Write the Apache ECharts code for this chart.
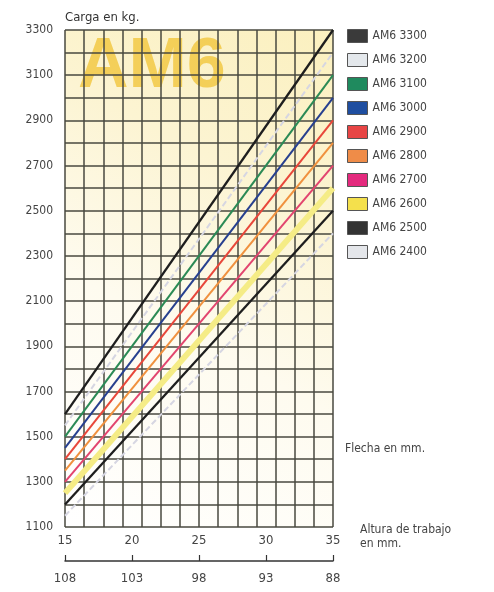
<!DOCTYPE html>
<html>
<head>
<meta charset="utf-8">
<script src="https://cdn.jsdelivr.net/npm/echarts@6/dist/echarts.min.js"></script>
<style>html,body{margin:0;padding:0;background:#fff}#c{width:494px;height:592px}</style>
</head>
<body>
<div id="c"></div>
<script>
// ---- data ----
const models = ['AM6 3300','AM6 3200','AM6 3100','AM6 3000','AM6 2900','AM6 2800','AM6 2700','AM6 2600','AM6 2500','AM6 2400'];
const flechaStart = 15;
const flechaEnd = 35;
const loadAtStart = [1600,1550,1500,1450,1400,1350,1300,1250,1200,1150];
const loadAtEnd   = [3300,3200,3100,3000,2900,2800,2700,2600,2500,2400];
const flechaTicks = [15,20,25,30,35];
const alturaLabels = ['108','103','98','93','88'];

// ---- styles ----
const lineColors = ['#1e1e1e','#d6d6e2','#2b8a55','#27408f','#e8473a','#f0913e','#e2456f','#f5ec86','#1e1e1e','#d6d6e2'];
const legendColors = ['#3a3a3a','#e4e8ec','#1f8a5e','#1f4ea0','#e84545','#ef8c48','#e42a7e','#f4e04c','#333333','#e4e6ea'];
const lineWidths = [2.3,2,2,2,2,2,2,6,2.3,2];
const lineTypes = ['solid',[6,3],'solid','solid','solid','solid','solid','solid','solid',[6,3]];

const series = models.map((m, i) => ({
  name: m,
  type: 'line',
  xAxisIndex: 0,
  yAxisIndex: 0,
  symbol: 'none',
  silent: true,
  z: i === 7 ? 2 : (lineColors[i] === '#1e1e1e' ? 4 : 3),
  lineStyle: { color: lineColors[i], width: lineWidths[i], type: lineTypes[i] },
  itemStyle: { color: legendColors[i], borderColor: '#666', borderWidth: 1 },
  data: [[flechaStart, loadAtStart[i]], [flechaEnd, loadAtEnd[i]]]
}));

const font = '"DejaVu Sans Condensed","DejaVu Sans",sans-serif';
const chart = echarts.init(document.getElementById('c'), null, { renderer: 'canvas' });
chart.setOption({
  animation: false,
  backgroundColor: '#ffffff',
  grid: { left: 65, right: 161, top: 30, bottom: 65, show: false },
  legend: {
    orient: 'vertical',
    left: 342, top: 24,
    itemWidth: 20, itemHeight: 13, itemGap: 10,
    icon: 'rect',
    selectedMode: false,
    textStyle: { fontFamily: font, fontSize: 12, color: '#444' },
    data: models.map((m, i) => ({ name: m, itemStyle: { color: legendColors[i], borderColor: '#555', borderWidth: 1 } }))
  },
  xAxis: [
    {
      type: 'value', min: flechaStart, max: flechaEnd, interval: 5,
      position: 'bottom',
      axisLine: { show: false }, axisTick: { show: false },
      splitLine: { show: false },
      axisLabel: { margin: 7, fontFamily: font, fontSize: 13, color: '#444',
        formatter: v => flechaTicks.indexOf(v) >= 0 ? String(v) : '' }
    },
    {
      type: 'value', min: 0, max: 14, interval: 1,
      position: 'top', show: true,
      axisLine: { show: false }, axisTick: { show: false }, axisLabel: { show: false },
      splitLine: { show: true, lineStyle: { color: '#48483f', width: 1.5 } }
    },
    {
      type: 'value', min: flechaStart, max: flechaEnd, interval: 5,
      position: 'bottom', offset: 34,
      axisLine: { show: true, lineStyle: { color: '#333', width: 1.5 } },
      axisTick: { show: true, inside: true, length: 6, lineStyle: { color: '#333', width: 1.2 } },
      splitLine: { show: false },
      axisLabel: { margin: 11, fontFamily: font, fontSize: 13, color: '#444',
        formatter: v => alturaLabels[flechaTicks.indexOf(v)] || '' }
    }
  ],
  yAxis: [{
    type: 'value', min: 1100, max: 3300, interval: 100,
    name: 'Carga en kg.',
    nameLocation: 'end', nameGap: 6,
    nameTextStyle: { fontFamily: font, fontSize: 13, color: '#333', align: 'left' },
    axisLine: { show: false }, axisTick: { show: false },
    splitLine: { show: true, lineStyle: { color: '#48483f', width: 1.5 } },
    axisLabel: { margin: 12, fontFamily: font, fontSize: 12, color: '#444',
      formatter: v => ((v - 1100) % 200 === 0) ? String(v) : '' }
  }],
  graphic: [
    { type: 'rect', left: 65, top: 30, z: -2, silent: true,
      shape: { width: 268, height: 497 },
      style: { fill: {
        type: 'linear', x: 0, y: 1, x2: 1, y2: 0,
        colorStops: [
          { offset: 0, color: '#ffffff' },
          { offset: 0.4, color: '#fefbef' },
          { offset: 0.7, color: '#fcf4d2' },
          { offset: 1, color: '#fbf0bf' }
        ] } } },
    { type: 'text', left: 78, top: 33, z: -1, silent: true,
      style: { text: 'AM6', fontFamily: '"Liberation Sans",Arial,sans-serif', fontWeight: 'bold', fontSize: 70, fill: 'rgba(241,198,60,0.8)' } },
    { type: 'text', left: 345, top: 443, style: { text: 'Flecha en mm.', fontFamily: font, fontSize: 12, fill: '#444' } },
    { type: 'text', left: 360, top: 523, style: { text: 'Altura de trabajo\nen mm.', fontFamily: font, fontSize: 12, lineHeight: 14, fill: '#444' } }
  ],
  series: series
});
</script>
</body>
</html>
